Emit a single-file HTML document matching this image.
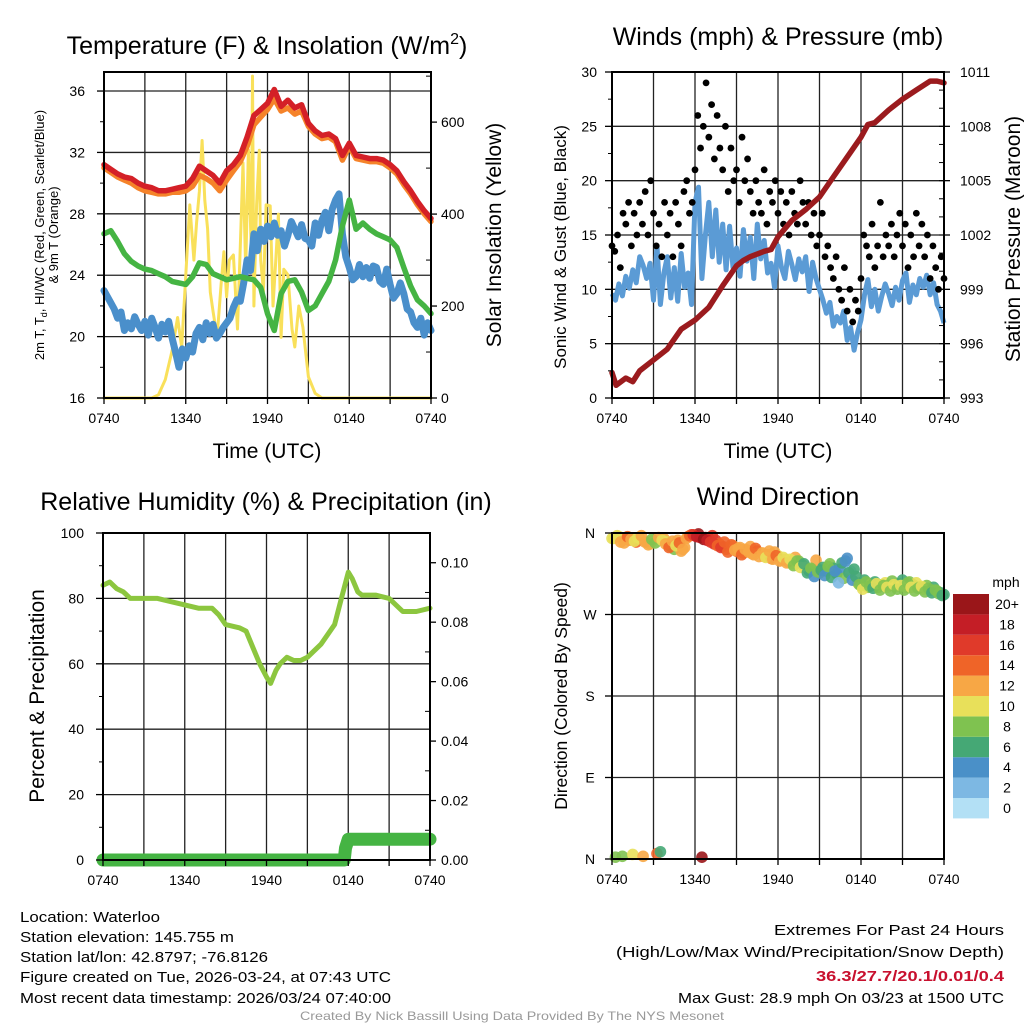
<!DOCTYPE html>
<html><head><meta charset="utf-8"><title>Mesonet Station Chart</title>
<style>
html,body{margin:0;padding:0;background:#fff;}
svg{display:block;font-family:"Liberation Sans",Arial,sans-serif;}
</style></head>
<body>
<svg id="chart" width="1024" height="1024" viewBox="0 0 1024 1024" xmlns="http://www.w3.org/2000/svg">
<rect x="0" y="0" width="1024" height="1024" fill="#fff"/>
<text x="267" y="54" font-size="25" text-anchor="middle">Temperature (F) &amp; Insolation (W/m<tspan dy="-10" font-size="16">2</tspan><tspan dy="10">)</tspan></text>
<text x="778" y="45" font-size="25" text-anchor="middle">Winds (mph) &amp; Pressure (mb)</text>
<text x="266" y="510" font-size="25" text-anchor="middle">Relative Humidity (%) &amp; Precipitation (in)</text>
<text x="778" y="505" font-size="25" text-anchor="middle">Wind Direction</text>
<text x="267" y="458" font-size="21" text-anchor="middle">Time (UTC)</text>
<text x="778" y="458" font-size="21" text-anchor="middle">Time (UTC)</text>
<text transform="translate(44,235) rotate(-90)" font-size="13" text-anchor="middle">2m T, T<tspan font-size="9" dy="3">d</tspan><tspan dy="-3">, HI/WC (Red, Green, Scarlet/Blue)</tspan></text>
<text transform="translate(58,235) rotate(-90)" font-size="13" text-anchor="middle">&amp; 9m T (Orange)</text>
<text transform="translate(501,235) rotate(-90)" font-size="21" text-anchor="middle">Solar Insolation (Yellow)</text>
<text transform="translate(566,247) rotate(-90)" font-size="17" text-anchor="middle">Sonic Wind &amp; Gust (Blue, Black)</text>
<text transform="translate(1020,239) rotate(-90)" font-size="21" text-anchor="middle">Station Pressure (Maroon)</text>
<text transform="translate(44,696) rotate(-90)" font-size="21" text-anchor="middle">Percent &amp; Precipitation</text>
<text transform="translate(567,696) rotate(-90)" font-size="17.5" text-anchor="middle">Direction (Colored By Speed)</text>
<g font-size="15">
<text x="20" y="922" textLength="140" lengthAdjust="spacingAndGlyphs">Location: Waterloo</text>
<text x="20" y="942" textLength="214" lengthAdjust="spacingAndGlyphs">Station elevation: 145.755 m</text>
<text x="20" y="962" textLength="248" lengthAdjust="spacingAndGlyphs">Station lat/lon: 42.8797; -76.8126</text>
<text x="20" y="982" textLength="371" lengthAdjust="spacingAndGlyphs">Figure created on Tue, 2026-03-24, at 07:43 UTC</text>
<text x="20" y="1003" textLength="371" lengthAdjust="spacingAndGlyphs">Most recent data timestamp: 2026/03/24 07:40:00</text>
</g>
<g font-size="15">
<text x="1004" y="935" text-anchor="end" textLength="230" lengthAdjust="spacingAndGlyphs">Extremes For Past 24 Hours</text>
<text x="1004" y="957" text-anchor="end" textLength="388" lengthAdjust="spacingAndGlyphs">(High/Low/Max Wind/Precipitation/Snow Depth)</text>
<text x="1004" y="981" text-anchor="end" font-weight="bold" fill="#c8102e" textLength="188" lengthAdjust="spacingAndGlyphs">36.3/27.7/20.1/0.01/0.4</text>
<text x="1004" y="1003" text-anchor="end" textLength="326" lengthAdjust="spacingAndGlyphs">Max Gust: 28.9 mph On 03/23 at 1500 UTC</text>
</g>
<text x="512" y="1020" font-size="12" fill="#999" text-anchor="middle" textLength="424" lengthAdjust="spacingAndGlyphs">Created By Nick Bassill Using Data Provided By The NYS Mesonet</text>
</svg>
<script>
// ---------- data ----------
var timeLabels = ["0740","1340","1940","0140","0740"];
var tempHours = [0,0.5,1,1.5,2,2.5,3,3.5,4,4.5,5,5.5,6,6.5,7,7.5,8,8.5,9,9.5,10,10.5,11,11.5,12,12.5,13,13.5,14,14.5,15,15.5,16,16.5,17,17.5,18,18.5,19,19.5,20,20.5,21,21.5,22,22.5,23,23.5,24];
var tempRed = [31.2,30.9,30.6,30.4,30.3,30.0,29.8,29.7,29.5,29.5,29.6,29.7,29.8,30.3,31.1,30.8,30.5,30.0,30.8,31.2,31.8,33.0,34.4,34.8,35.2,36.1,35.0,35.4,34.9,35.1,33.9,33.4,33.1,33.2,32.9,31.8,32.6,31.8,31.7,31.6,31.6,31.5,31.2,30.8,30.1,29.5,28.8,28.2,27.7];
var tempOrange = [31.0,30.7,30.4,30.2,30.0,29.7,29.5,29.4,29.3,29.3,29.4,29.4,29.5,29.8,30.5,30.3,30.0,29.5,30.2,30.8,31.4,32.4,33.8,34.3,34.8,35.5,34.7,34.9,34.5,34.7,33.7,33.2,32.9,33.0,32.7,31.5,32.4,31.6,31.5,31.4,31.4,31.3,31.0,30.6,29.9,29.3,28.6,28.0,27.5];
var tempGreen = [26.7,26.9,26.2,25.4,24.9,24.6,24.4,24.3,24.1,23.9,23.6,23.5,23.4,23.9,24.8,24.7,24.1,23.9,23.7,23.8,23.9,23.8,23.7,23.2,21.5,20.4,22.8,23.6,23.7,22.9,21.7,22.0,22.8,23.6,25.0,27.2,28.9,27.0,27.4,27.0,26.7,26.5,26.3,25.8,24.5,23.3,22.4,22.0,21.5];
var tempBlue = [23.0,22.6,22.2,21.8,21.2,21.6,20.4,20.9,20.5,21.3,
20.8,20.4,21.0,20.1,21.2,20.6,19.9,20.8,20.3,21.0,
19.9,19.0,18.0,19.2,18.6,19.4,19.0,20.2,20.6,19.8,
20.9,20.2,20.8,19.9,20.2,20.6,20.9,21.2,21.9,22.4,
22.3,23.5,25.0,24.3,26.7,25.6,27.0,26.2,27.2,26.5,
27.4,26.6,26.9,25.9,26.6,27.5,27.0,26.5,27.3,26.4,
26.3,25.9,27.4,26.6,27.6,28.1,26.9,28.3,28.9,29.3,
26.7,25.2,24.5,23.7,23.9,24.7,23.9,24.5,23.8,24.6,
24.5,23.6,23.4,24.4,23.4,22.5,22.8,23.5,22.8,21.8,
21.6,20.9,20.6,21.2,20.1,20.9,20.4];
var solarHours = [0,3.5,4,4.5,5,5.4,5.7,6,6.3,6.6,6.8,7,7.2,7.4,7.6,7.8,8,8.3,8.6,8.8,9,9.2,9.5,9.8,10,10.2,10.4,10.6,10.8,10.9,11.0,11.2,11.4,11.5,11.7,11.9,12.2,12.4,12.6,12.8,13,13.2,13.5,13.8,14,14.3,14.6,15,15.5,16,24];
var solarValues = [0,0,7,40,103,175,110,268,420,300,382,450,560,430,368,230,189,132,250,318,220,300,311,150,330,511,280,540,325,700,200,420,539,300,232,420,418,200,296,400,132,280,268,150,111,200,154,46,10,0,0];
var pressureHours = [0,0.3,1,1.5,2,3,4,5,6,7,8,9,9.5,10,11,11.5,12,13,14,15,16,17,18,18.5,19,20,21,22,23,23.5,24];
var pressureValues = [994.4,993.7,994.1,993.9,994.5,995.1,995.7,996.8,997.3,998.0,999.2,1000.3,1000.6,1000.8,1001.1,1001.2,1001.9,1002.8,1003.4,1004.1,1005.2,1006.3,1007.4,1008.1,1008.2,1008.9,1009.5,1010.0,1010.5,1010.5,1010.4];
var windValues = [9.6,9.0,10.5,9.4,11.2,10.1,11.8,10.6,13.0,12.2,
11.0,12.4,9.0,14.0,8.6,11.5,13.0,9.2,12.0,8.9,
13.3,10.2,11.5,8.6,18.0,19.4,11.0,15.0,18.0,13.0,
17.3,12.5,16.0,11.8,15.8,12.0,13.8,11.2,15.5,12.6,
14.8,11.0,16.0,12.8,14.5,11.5,12.4,10.2,14.0,12.0,
11.0,13.5,12.3,10.9,12.8,11.6,13.0,9.8,12.5,11.0,
10.0,9.0,7.8,8.8,6.6,7.5,6.9,8.0,5.3,6.5,
4.4,6.0,7.2,9.5,10.9,8.4,10.0,8.0,9.4,10.5,
9.6,8.5,10.2,9.0,10.8,11.5,8.8,10.4,9.5,11.0,
10.2,11.3,9.5,10.6,8.6,8.0,6.9];
var gustValues = [14,13.5,15,12,17,16,18,14,17,15,
18,16,19,15,20,17,14,16,13,18,
15,17,13,18,16,14,19,20,17,18,
21,26,23,25,29,24,27,22,26,23,
21,25,19,23,20,21,18,24,20,22,
19,17,20,18,17,21,16,19,18,20,
17,19,16,18,15,19,17,16,20,18,
16,18,15,17,14,15,17,13,14,12,
11,13,10,9,12,8,10,7,9,8,
11,15,14,13,16,12,14,18,13,15,
14,16,13,15,17,14,16,12,15,13,
17,14,16,13,15,11,14,12,10,13,
11];
var rhHours = [0,0.5,1,1.5,2,3,4,5,6,7,8,8.5,9,10,10.5,11,11.5,12,12.3,12.7,13,13.5,14,14.5,15,16,17,17.5,18,18.3,18.7,19,20,21,22,23,24];
var rhValues = [84,85,83,82,80,80,80,79,78,77,77,75,72,71,70,65,60,56,54,58,60,62,61,61,62,66,72,80,88,86,82,81,81,80,76,76,77];
var precipHours = [0,17.7,17.8,18,24];
var precipValues = [0,0,0.004,0.007,0.007];
var dirValues = [354,2,356,3,355,352,5,350,354,3,
350,348,352,6,8,354,350,345,342,352,
340,344,356,358,357,359,2,355,354,357,
352,348,345,342,343,346,340,344,338,341,
345,336,340,338,334,336,332,339,335,330,
331,328,326,333,329,325,322,318,320,330,
316,322,318,326,321,315,320,310,332,318,
320,305,302,308,300,304,306,300,303,305,
302,307,301,304,308,300,306,303,305,300,
298,302,297,300,296,294,292];
var dirSpeeds = [10,9,11,8,12,13,10,14,12,13,
12,10,11,15,7,12,10,8,9,13,
13,12,15,16,19,20,20,19,18,17,
16,15,17,14,15,13,14,13,12,14,
13,12,14,11,13,12,15,12,11,13,
12,13,10,12,9,8,11,7,9,13,
8,7,6,9,7,6,5,8,4,3,
6,10,9,7,8,10,6,9,8,10,
9,8,10,9,7,10,9,8,10,9,
10,8,9,7,8,6,7];
var dirValues2 = [354,357,350,349,356,353,351,355,357,350,
347,353,349,355,352,348,344,351,346,349,
342,354,357,358,356,355,353,352,350,348,
346,344,350,339,347,341,343,336,342,339,
337,343,334,338,333,340,331,335,329,333,
327,331,324,329,322,326,316,321,312,317,
319,313,323,311,318,305,327,329,316,308,
312,303,298,306,301,299,304,297,302,300,
296,303,298,302,297,305,300,296,299,301,
295,299,294,297,293,291];
var dirSpeeds2 = [11,10,12,13,14,12,10,11,13,12,
13,8,9,12,11,13,14,12,10,14,
12,13,15,17,18,19,20,19,17,16,
15,16,14,15,14,13,12,14,13,12,
13,14,12,13,11,12,13,14,12,11,
12,10,9,8,11,7,6,8,5,9,
7,5,8,6,4,3,7,4,6,5,
7,9,10,8,9,7,10,8,9,10,
8,10,9,11,9,8,10,9,8,10,
9,8,7,9,8,7];
var speedColors = ["#b3e0f5","#7db8e3","#4a90c8","#45a875","#7fc250","#e8e05a","#f7a745","#ef6428","#e03a2a","#c41e26","#9a1619"];
var speedLabels = ["0","2","4","6","8","10","12","14","16","18","20+"];
var dirTicks = [0,90,180,270,360];
var dirTickLabels = ["N","E","S","W","N"];

// ---------- helpers ----------
var NS = "http://www.w3.org/2000/svg";
var svg = document.getElementById("chart");
function mk(tag, attrs, parent) {
  var e = document.createElementNS(NS, tag);
  for (var k in attrs) e.setAttribute(k, attrs[k]);
  (parent || svg).appendChild(e);
  return e;
}
function lin(d0, d1, r0, r1) { return function (v) { return r0 + (v - d0) / (d1 - d0) * (r1 - r0); }; }

function panel(name, x0, x1, y0, y1) {
  var g = mk("g", {});
  
  
  return {g: g, x0: x0, x1: x1, y0: y0, y1: y1, x: lin(0, 24, x0, x1)};
}
function grid(p, yVals, ys) {
  for (var h = 3; h < 24; h += 3) {
    var l = mk("line", {x1: p.x(h), x2: p.x(h), y1: p.y0, y2: p.y1, stroke: "#222", "stroke-width": 1.3}, p.g);
    
    
  }
  yVals.forEach(function (v) {
    var l = mk("line", {x1: p.x0, x2: p.x1, y1: ys(v), y2: ys(v), stroke: "#222", "stroke-width": 1.3}, p.g);
    
    
  });
}
function frame(p) {
  var r = mk("rect", {x: p.x0, y: p.y0, width: p.x1 - p.x0, height: p.y1 - p.y0, fill: "none", stroke: "#000", "stroke-width": 2}, p.g);
  
  
  for (var h = 0; h <= 24; h += 3) {
    var t = mk("line", {x1: p.x(h), x2: p.x(h), y1: p.y1, y2: p.y1 + 6, stroke: "#000", "stroke-width": 1.3}, p.g);
    
    
  }
  timeLabels.forEach(function (s, i) {
    var tx = mk("text", {x: p.x(i * 6), y: p.y1 + 25, "font-size": 14, "text-anchor": "middle"}, p.g);
    tx.textContent = s;
    
    
  });
}
function leftAxis(p, ys, majors, labels, minors, labX) {
  minors.forEach(function (v) {
    var t = mk("line", {x1: p.x0 - 4, x2: p.x0, y1: ys(v), y2: ys(v), stroke: "#000", "stroke-width": 1}, p.g);
    
    
  });
  majors.forEach(function (v, i) {
    var t = mk("line", {x1: p.x0 - 7, x2: p.x0, y1: ys(v), y2: ys(v), stroke: "#000", "stroke-width": 1.3}, p.g);
    
    
    var tx = mk("text", {x: labX, y: ys(v) + 5, "font-size": 14, "text-anchor": "end"}, p.g);
    tx.textContent = labels[i];
    
    
  });
}
function rightAxis(p, ys, majors, labels, minors, labX) {
  minors.forEach(function (v) {
    var t = mk("line", {x1: p.x1 - 5, x2: p.x1, y1: ys(v), y2: ys(v), stroke: "#000", "stroke-width": 1}, p.g);
    
    
  });
  majors.forEach(function (v, i) {
    var t = mk("line", {x1: p.x1, x2: p.x1 + 6, y1: ys(v), y2: ys(v), stroke: "#000", "stroke-width": 1.3}, p.g);
    
    
    var tx = mk("text", {x: labX, y: ys(v) + 5, "font-size": 14, "text-anchor": "start"}, p.g);
    tx.textContent = labels[i];
    
    
  });
}
function pathFrom(hours, vals, xs, ys) {
  return hours.map(function (h, i) { return (i ? "L" : "M") + xs(h).toFixed(1) + "," + ys(vals[i]).toFixed(1); }).join("");
}
function stepHours(n, step, off) { var a = []; for (var i = 0; i < n; i++) a.push(i * step + (off || 0)); return a; }
function range(a, b, s) { var r = []; for (var v = a; v <= b + 1e-9; v += s) r.push(+v.toFixed(4)); return r; }

// ---------- Panel 1: temperature ----------
var p1 = panel("temperature", 104, 431, 72, 398);
var t1 = lin(16, 37.24, 398, 72);
var s1 = lin(0, 709, 398, 72);
grid(p1, [20, 24, 28, 32, 36], t1);
var blueHours = stepHours(tempBlue.length, 0.25);
[[solarHours, solarValues, s1, "#f9e05a", 3, "solar-insolation-line"],
 [blueHours, tempBlue, t1, "#4a8fcb", 7, "wind-chill-line"],
 [tempHours, tempGreen, t1, "#45b443", 5.5, "dewpoint-line"],
 [tempHours, tempOrange, t1, "#f5832a", 5.5, "temp-9m-line"],
 [tempHours, tempRed, t1, "#d42027", 5.5, "temp-2m-line"]].forEach(function (s) {
  var pa = mk("path", {d: pathFrom(s[0], s[1], p1.x, s[2]), fill: "none", stroke: s[3], "stroke-width": s[4], "stroke-linejoin": "round", "stroke-linecap": "round"}, p1.g);
  
  
});
frame(p1);
leftAxis(p1, t1, [16, 20, 24, 28, 32, 36], ["16", "20", "24", "28", "32", "36"], [18, 22, 26, 30, 34], p1.x0 - 19);
rightAxis(p1, s1, [0, 200, 400, 600], ["0", "200", "400", "600"], [100, 300, 500, 700], p1.x1 + 10);

// ---------- Panel 2: winds & pressure ----------
var p2 = panel("winds", 612, 944, 72, 398);
var w2 = lin(0, 30, 398, 72);
var pr2 = lin(993, 1011, 398, 72);
grid(p2, [5, 10, 15, 20, 25], w2);
var windHours = stepHours(windValues.length, 0.25);
var wl = mk("path", {d: pathFrom(windHours, windValues, p2.x, w2), fill: "none", stroke: "#5b9bd5", "stroke-width": 5, "stroke-linejoin": "round"}, p2.g);


var gustHours = stepHours(gustValues.length, 0.2);
gustValues.forEach(function (v, i) {
  var c = mk("circle", {cx: p2.x(gustHours[i]), cy: w2(v), r: 3.4, fill: "#000"}, p2.g);
  
  
});
var pl = mk("path", {d: pathFrom(pressureHours, pressureValues, p2.x, pr2), fill: "none", stroke: "#9b1b1e", "stroke-width": 5.5, "stroke-linejoin": "round", "stroke-linecap": "round"}, p2.g);


frame(p2);
leftAxis(p2, w2, [0, 5, 10, 15, 20, 25, 30], ["0", "5", "10", "15", "20", "25", "30"], [2.5, 7.5, 12.5, 17.5, 22.5, 27.5], p2.x0 - 15);
rightAxis(p2, pr2, [993, 996, 999, 1002, 1005, 1008, 1011], ["993", "996", "999", "1002", "1005", "1008", "1011"], range(994, 1010, 1), p2.x1 + 16);

// ---------- Panel 3: humidity & precipitation ----------
var p3 = panel("humidity", 103, 430, 533, 860);
var h3 = lin(0, 100, 860, 533);
var pc3 = lin(0, 0.11, 860, 533);
grid(p3, [20, 40, 60, 80], h3);
var prl = mk("path", {d: pathFrom(precipHours, precipValues, p3.x, pc3), fill: "none", stroke: "#45b443", "stroke-width": 13, "stroke-linejoin": "round", "stroke-linecap": "round"}, p3.g);


var rhl = mk("path", {d: pathFrom(rhHours, rhValues, p3.x, h3), fill: "none", stroke: "#8cc63f", "stroke-width": 5, "stroke-linejoin": "round", "stroke-linecap": "round"}, p3.g);


frame(p3);
leftAxis(p3, h3, [0, 20, 40, 60, 80, 100], ["0", "20", "40", "60", "80", "100"], [10, 30, 50, 70, 90], p3.x0 - 19);
rightAxis(p3, pc3, [0, 0.02, 0.04, 0.06, 0.08, 0.10], ["0.00", "0.02", "0.04", "0.06", "0.08", "0.10"], [0.01, 0.03, 0.05, 0.07, 0.09], p3.x1 + 11);

// ---------- Panel 4: wind direction ----------
var p4 = panel("wind-direction", 612, 944, 533, 859);
var d4 = lin(0, 360, 859, 533);
grid(p4, [90, 180, 270], d4);
function speedColor(s) { var i = Math.min(10, Math.max(0, Math.floor(s / 2))); return speedColors[i]; }
var dirHours = stepHours(dirValues.length, 0.25);
var dirHours2 = stepHours(dirValues2.length, 0.25, 0.125);
dirValues.forEach(function (v, i) {
  var c = mk("circle", {cx: p4.x(dirHours[i]), cy: d4(v), r: 5.8, fill: speedColor(dirSpeeds[i]), "fill-opacity": 0.9}, p4.g);
  
  
});
dirValues2.forEach(function (v, i) {
  var c = mk("circle", {cx: p4.x(dirHours2[i]), cy: d4(v), r: 5.8, fill: speedColor(dirSpeeds2[i]), "fill-opacity": 0.9}, p4.g);
  
  
});
frame(p4);
dirTicks.forEach(function (v, i) {
  var t = mk("line", {x1: p4.x0 - 7, x2: p4.x0, y1: d4(v), y2: d4(v), stroke: "#000", "stroke-width": 1.3}, p4.g);
  
  
  var tx = mk("text", {x: p4.x0 - 22, y: d4(v) + 5, "font-size": 14, "text-anchor": "middle"}, p4.g);
  tx.textContent = dirTickLabels[i];
  
  
});
// colorbar
var cb = mk("g", {});


var cbTitle = mk("text", {x: 1006, y: 587, "font-size": 14, "text-anchor": "middle"}, cb);
cbTitle.textContent = "mph";


for (var k = 0; k < speedColors.length; k++) {
  var row = speedColors.length - 1 - k;
  var by = 594 + row * 20.4;
  var box = mk("rect", {x: 953, y: by, width: 36, height: 20.4, fill: speedColors[k]}, cb);
  
  
  var lb = mk("text", {x: 1007, y: by + 15, "font-size": 14, "text-anchor": "middle"}, cb);
  lb.textContent = speedLabels[k];
  
  
}
</script>
</body></html>
